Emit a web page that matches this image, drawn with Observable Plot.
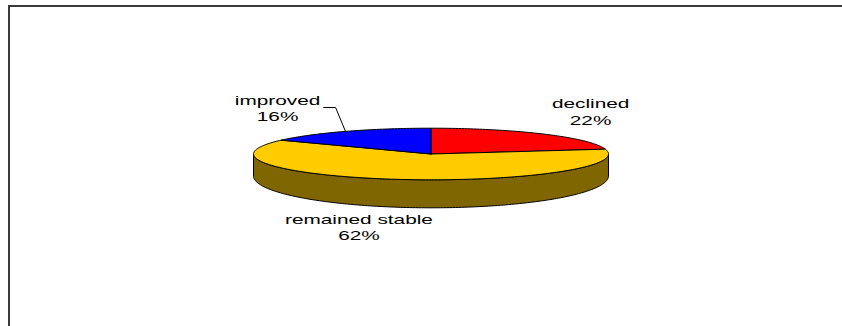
<!DOCTYPE html>
<html>
<head>
<meta charset="utf-8">
<script src="https://cdn.jsdelivr.net/npm/d3@7"></script>
<script src="https://cdn.jsdelivr.net/npm/@observablehq/plot@0.6"></script>
<style>
  html, body { margin: 0; padding: 0; background: #fff; overflow: hidden; }
  #wrap { position: relative; width: 842px; height: 326px; overflow: hidden; }
  #frame { position: absolute; left: 8px; top: 5px; width: 900px; height: 400px; border: 2px solid #3a3a3a; }
  #chart { position: absolute; left: 0; top: 0; }
</style>
</head>
<body>
<div id="wrap"><div id="frame"></div><div id="chart"></div></div>
<script>
// ---- data -------------------------------------------------------------
const categories = ["declined", "remained stable", "improved"];
const shares = [22, 62, 16];
const sliceColors = ["#FF0000", "#FFCC00", "#0000FF"];
const leaderFor = ["improved"];

// ---- layout of the tilted disc ------------------------------------------
const W = 842, H = 326;
const CX = 430.5, CY = 153.5;     // centre of the top face
const RX = 177.5, RY = 25.8;      // radii of the top face
const DEPTH = 22 / RY;            // disc thickness, in top-face units
const BOTTOM_RY = 31.8 / RY;      // bottom rim is a little rounder (perspective)
const STEP = 1;                   // degrees per arc sample

// label placement: radial guess from the slice mid-angle plus a nudge (px)
const LABEL_RX = 1.4, LABEL_RY = 2.0;
const labelNudge = {
  "declined": [1.2, -2.9],
  "remained stable": [-25.5, 21.8],
  "improved": [-33.7, -1.3]
};
const LEADER_GAP = 46, LEADER_ELBOW = 58; // px from the label centre

const rad = d => d * Math.PI / 180;
const shade = c => { const r = d3.rgb(c); return d3.rgb(r.r * 0.5, r.g * 0.5, r.b * 0.5).formatHex(); };

// slices run clockwise from 12 o'clock
const total = d3.sum(shares);
let cum = 0;
const slices = categories.map((name, i) => {
  const a0 = 90 - 360 * cum / total;
  cum += shares[i];
  const a1 = 90 - 360 * cum / total;
  return {name, share: shares[i], color: sliceColors[i], a0, a1, mid: (a0 + a1) / 2};
});

const topY = a => Math.sin(a);
const bottomY = a => -DEPTH + BOTTOM_RY * Math.sin(a);
function arc(a0, a1, yOf) {
  const n = Math.max(2, Math.ceil(Math.abs(a1 - a0) / STEP));
  return d3.range(n + 1).map(k => {
    const a = rad(a0 + (a1 - a0) * k / n);
    return [Math.cos(a), yOf(a)];
  });
}

// wedges of the top face
const wedges = slices.flatMap(s =>
  [[0, 0], ...arc(s.a0, s.a1, topY), [0, 0]].map(([x, y]) => ({key: s.name, x, y, fill: s.color}))
);

// front wall: the part of each slice's rim between 9 o'clock and 3 o'clock (via 6 o'clock)
const walls = [];
slices.forEach(s => {
  for (const shift of [-360, 0, 360]) {
    const lo = Math.max(s.a1, -180 + shift), hi = Math.min(s.a0, 0 + shift);
    if (hi - lo <= 0.01) continue;
    const pts = [...arc(hi, lo, topY), ...arc(lo, hi, bottomY)];
    pts.push(pts[0]);
    const key = `${s.name}-wall-${shift}`;
    pts.forEach(([x, y]) => walls.push({key, x, y, fill: shade(s.color)}));
  }
});

// labels and leader lines
const labels = slices.map(s => {
  const [nx, ny] = labelNudge[s.name] || [0, 0];
  return {
    name: s.name,
    text: `${s.name}\n${s.share}%`,
    x: LABEL_RX * Math.cos(rad(s.mid)) + nx / RX,
    y: LABEL_RY * Math.sin(rad(s.mid)) - ny / RY,
    mid: s.mid
  };
});
const leaders = labels.filter(l => leaderFor.includes(l.name)).flatMap(l => [
  {key: l.name, x: l.x + LEADER_GAP / RX, y: l.y},
  {key: l.name, x: l.x + LEADER_ELBOW / RX, y: l.y},
  {key: l.name, x: Math.cos(rad(l.mid)), y: Math.sin(rad(l.mid))}
]);

const chart = Plot.plot({
  width: W,
  height: H,
  marginLeft: CX - RX,
  marginRight: W - CX - RX,
  marginTop: CY - RY,
  marginBottom: H - CY - RY,
  x: {domain: [-1, 1], axis: null},
  y: {domain: [-1, 1], axis: null},
  color: {type: "identity"},
  style: {background: "transparent", overflow: "visible"},
  marks: [
    Plot.line(walls, {x: "x", y: "y", z: "key", fill: "fill", stroke: "black", strokeWidth: 1, strokeLinejoin: "round"}),
    Plot.line(wedges, {x: "x", y: "y", z: "key", fill: "fill", stroke: "black", strokeWidth: 1, strokeLinejoin: "round"}),
    Plot.line(leaders, {x: "x", y: "y", z: "key", stroke: "black", strokeWidth: 1}),
    Plot.text(labels, {
      x: "x", y: "y", text: "text",
      fontSize: 13,
      fontFamily: "Arial, 'Liberation Sans', sans-serif",
      lineHeight: 1.27,
      lineAnchor: "middle",
      textAnchor: "middle",
      fill: "black"
    })
  ]
});

// the labels are set in a widened face
chart.querySelectorAll('g[aria-label="text"] text').forEach(t => {
  const tr = t.getAttribute("transform") || "";
  t.setAttribute("transform", `${tr} scale(1.6,1)`);
});

document.getElementById("chart").appendChild(chart);
</script>
</body>
</html>
